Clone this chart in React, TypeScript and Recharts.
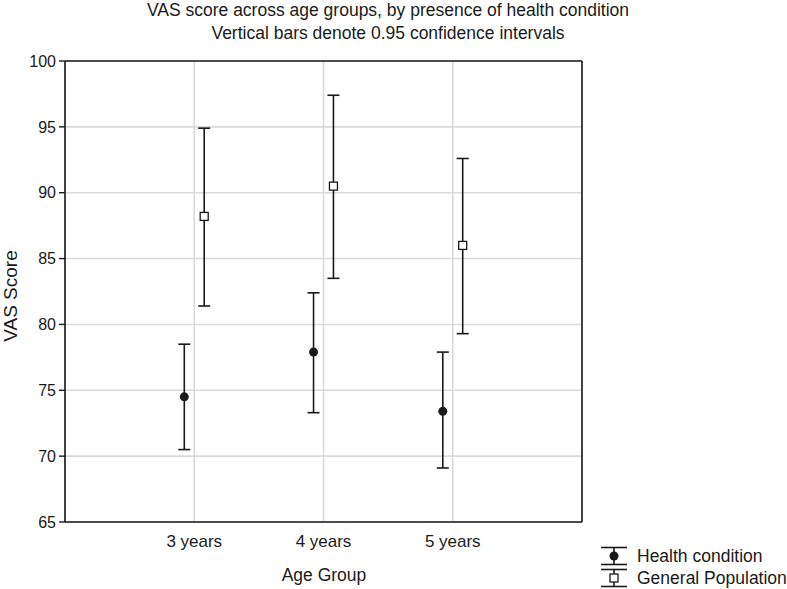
import React from "react"
import { ComposedChart, Scatter, ErrorBar, XAxis, YAxis, CartesianGrid, Legend } from "recharts"

const ageGroups = ["3 years", "4 years", "5 years"]
const healthMean = [74.5, 77.9, 73.4]
const healthLow = [70.5, 73.3, 69.1]
const healthHigh = [78.5, 82.4, 77.9]
const generalMean = [88.2, 90.5, 86.0]
const generalLow = [81.4, 83.5, 79.3]
const generalHigh = [94.9, 97.4, 92.6]
const yTicks = [65, 70, 75, 80, 85, 90, 95, 100]

const FONT = "'Liberation Sans', Arial, sans-serif"
const INK = "#1a1a1a"
const DODGE = 0.077

const healthData = ageGroups.map((g, i) => ({
  group: g,
  x: i + 1 - DODGE,
  y: healthMean[i],
  err: [healthMean[i] - healthLow[i], healthHigh[i] - healthMean[i]],
}))

const generalData = ageGroups.map((g, i) => ({
  group: g,
  x: i + 1 + DODGE,
  y: generalMean[i],
  err: [generalMean[i] - generalLow[i], generalHigh[i] - generalMean[i]],
}))

const Dot = (p: any) => <circle cx={p.cx} cy={p.cy} r={4.5} fill={INK} />
const Square = (p: any) => (
  <rect x={p.cx - 4} y={p.cy - 4} width={8} height={8} fill="#fff" stroke={INK} strokeWidth={1.3} />
)

function LegendIcon({ square }: { square?: boolean }) {
  return (
    <svg width={28} height={20} style={{ display: "block" }}>
      <line x1={14} y1={1.5} x2={14} y2={18.5} stroke={INK} strokeWidth={1.6} />
      <line x1={1} y1={1.5} x2={27} y2={1.5} stroke={INK} strokeWidth={1.6} />
      <line x1={1} y1={18.5} x2={27} y2={18.5} stroke={INK} strokeWidth={1.6} />
      {square ? (
        <rect x={10} y={6} width={8} height={8} fill="#fff" stroke={INK} strokeWidth={1.3} />
      ) : (
        <circle cx={14} cy={10} r={4.5} fill={INK} />
      )}
    </svg>
  )
}

function LegendBox() {
  const rows = [
    { name: "Health condition", square: false },
    { name: "General Population", square: true },
  ]
  return (
    <div style={{ fontFamily: FONT, fontSize: 17.5, color: INK }}>
      {rows.map((r) => (
        <div key={r.name} style={{ display: "flex", alignItems: "center", height: 22, gap: 9, whiteSpace: "nowrap" }}>
          <LegendIcon square={r.square} />
          <span>{r.name}</span>
        </div>
      ))}
    </div>
  )
}

export default function App() {
  const yTickStyle = { fontSize: 16, fill: INK, fontFamily: FONT }
  const xTickStyle = { fontSize: 17, fill: INK, fontFamily: FONT }
  return (
    <div style={{ position: "absolute", left: 0, top: 0, width: 787, height: 589, background: "#fff", fontFamily: FONT }}>
      <div style={{ position: "absolute", left: 0, top: -1, width: 776, textAlign: "center", fontSize: 17.5, lineHeight: "23px", color: INK }}>
        <div>VAS score across age groups, by presence of health condition</div>
        <div>Vertical bars denote 0.95 confidence intervals</div>
      </div>
      <div
        style={{
          position: "absolute", left: 11, top: 296, transform: "translate(-50%, -50%) rotate(-90deg)",
          fontSize: 19, lineHeight: "20px", color: INK, whiteSpace: "nowrap",
        }}
      >
        VAS Score
      </div>
      <div style={{ position: "absolute", left: 324, top: 575, transform: "translate(-50%, -50%)", fontSize: 17.5, color: INK, whiteSpace: "nowrap" }}>
        Age Group
      </div>
      <ComposedChart width={787} height={589} margin={{ top: 61, right: 205, bottom: 0, left: 0 }}>
        <CartesianGrid stroke="#d9d9d9" strokeWidth={1.6} />
        <XAxis
          dataKey="x"
          type="number"
          domain={[0, 4]}
          ticks={[1, 2, 3]}
          allowDataOverflow
          tickFormatter={(v) => ageGroups[v - 1] ?? ""}
          height={67}
          tickLine={false}
          tickSize={0}
          tickMargin={13}
          tick={xTickStyle}
          axisLine={{ stroke: INK, strokeWidth: 1.6 }}
        />
        <XAxis xAxisId="top" orientation="top" type="number" domain={[0, 4]} mirror tick={false} tickLine={false} axisLine={{ stroke: INK, strokeWidth: 1.6 }} />
        <YAxis
          type="number"
          domain={[65, 100]}
          ticks={yTicks}
          width={65}
          tickSize={6}
          tickMargin={3}
          tick={yTickStyle}
          tickLine={{ stroke: INK, strokeWidth: 1.4 }}
          axisLine={{ stroke: INK, strokeWidth: 1.6 }}
        />
        <YAxis
          yAxisId="right"
          orientation="right"
          type="number"
          domain={[0, 8]}
          ticks={[0, 1, 2, 3, 4, 5, 6, 7, 8]}
          mirror
          tick={false}
          tickSize={4}
          tickLine={{ stroke: INK, strokeWidth: 1.4 }}
          axisLine={{ stroke: INK, strokeWidth: 1.6 }}
        />
        <Scatter name="Health condition" data={healthData} dataKey="y" shape={Dot} isAnimationActive={false}>
          <ErrorBar dataKey="err" direction="y" width={6} stroke={INK} strokeWidth={1.6} isAnimationActive={false} />
        </Scatter>
        <Scatter name="General Population" data={generalData} dataKey="y" shape={Square} isAnimationActive={false}>
          <ErrorBar dataKey="err" direction="y" width={6} stroke={INK} strokeWidth={1.6} isAnimationActive={false} />
        </Scatter>
        <Legend
          layout="vertical"
          align="center"
          verticalAlign="middle"
          content={() => <LegendBox />}
          wrapperStyle={{ left: 600, top: 545, width: 187, height: 44 }}
        />
      </ComposedChart>
    </div>
  )
}
